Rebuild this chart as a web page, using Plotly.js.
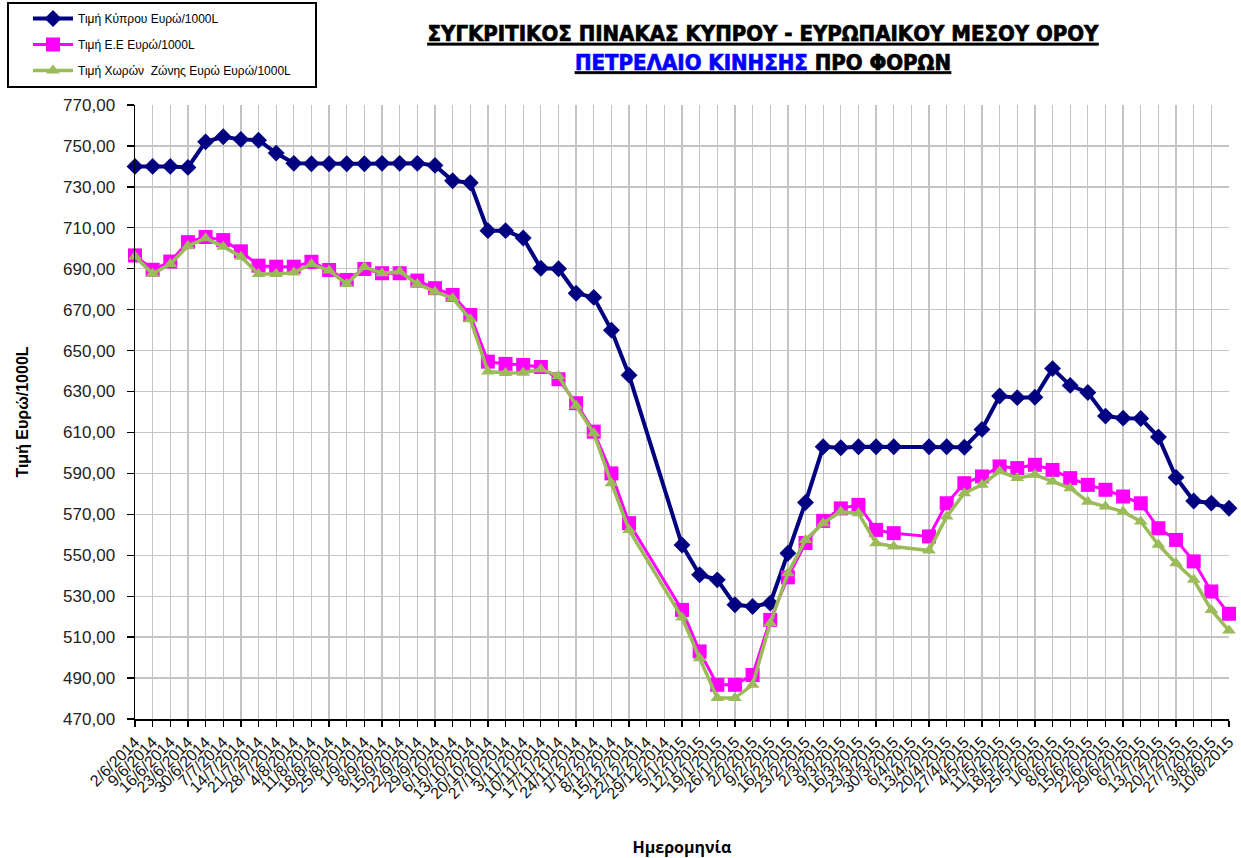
<!DOCTYPE html>
<html>
<head>
<meta charset="utf-8">
<script src="https://cdn.plot.ly/plotly-3.0.1.min.js"></script>
<style>html,body{margin:0;padding:0;background:#fff;}#chart{width:1241px;height:858px;}
.gtitle{font-stretch:condensed;stroke:#000;stroke-width:0.7px;}
.gtitle tspan[style*="0000FF"]{stroke:#0000FF;}</style>
</head>
<body>
<div id="chart"></div>
<script>
var dates = ["2/6/2014","9/6/2014","16/6/2014","23/6/2014","30/6/2014","7/7/2014","14/7/2014","21/7/2014","28/7/2014","4/8/2014","11/8/2014","18/8/2014","25/8/2014","1/9/2014","8/9/2014","15/9/2014","22/9/2014","29/9/2014","6/10/2014","13/10/2014","20/10/2014","27/10/2014","3/11/2014","10/11/2014","17/11/2014","24/11/2014","1/12/2014","8/12/2014","15/12/2014","22/12/2014","29/12/2014","5/1/2015","12/1/2015","19/1/2015","26/1/2015","2/2/2015","9/2/2015","16/2/2015","23/2/2015","2/3/2015","9/3/2015","16/3/2015","23/3/2015","30/3/2015","6/4/2015","13/4/2015","20/4/2015","27/4/2015","4/5/2015","11/5/2015","18/5/2015","25/5/2015","1/6/2015","8/6/2015","15/6/2015","22/6/2015","29/6/2015","6/7/2015","13/7/2015","20/7/2015","27/7/2015","3/8/2015","10/8/2015"];

var cyprus = [740,740,740,739.5,752,754.5,753.2,752.8,746.5,741.5,741.3,741.3,741.3,741.3,741.5,741.5,741.5,740.5,733,732,708.6,708.6,705,690.2,690,678,676,660,638,null,null,555,540.5,538,525.8,525,526.6,551,575.8,603,602.5,603,603,603,null,603,603,602.8,611.5,627.8,627,627.2,641.2,633,629.5,618,617,616.8,607.8,588,576.5,575.5,573];

var eu = [696.5,689.5,693.5,703,705.5,704,698.5,691.5,691,691,693.4,689.4,684.5,689.9,687.8,687.8,684.2,680.5,677.2,667.4,644.6,643.5,643,642,636,624.3,610.4,590,565.7,null,null,523.3,503,486.7,486.7,491.5,518.4,539.2,556,566.8,572.9,574.6,562.4,560.8,null,559.2,575.4,585.2,588.5,593.4,592.6,594.2,591.7,587.7,584.4,582,578.7,575.4,563.2,557.5,547,532.3,521.4];

var eurozone = [696,687.5,692.3,701.1,704.9,700.8,695.9,687.4,687.4,688.1,692.3,689.1,682.6,690.8,687.8,688.6,682.6,678.8,675.6,665.3,639.8,639,639.2,640.9,637.6,623,609.6,585.2,562.4,null,null,519.6,499.7,480.2,480.2,486.7,516.8,541.2,557.5,565.7,571.3,570.5,555.9,554.3,null,552.3,568.9,580.3,584.4,591,587.7,589.3,586,582.8,576.2,573.8,571.3,566.5,555.1,546.1,538,523.3,513.2];

var seriesNames = ["Τιμή Κύπρου Ευρώ/1000L","Τιμή Ε.Ε Ευρώ/1000L","Τιμή Χωρών  Ζώνης Ευρώ Ευρώ/1000L"];

var traces = [
  {x: dates, y: cyprus, name: seriesNames[0], type: 'scatter', mode: 'lines+markers', connectgaps: true, cliponaxis: false, legendgroup: 'a',
   line: {color: '#000080', width: 4}, marker: {symbol: 'diamond', size: 13, color: '#000080'}},
  {x: dates, y: eu, name: seriesNames[1], type: 'scatter', mode: 'lines+markers', connectgaps: true, cliponaxis: false, legendgroup: 'b',
   line: {color: '#FF00FF', width: 3}, marker: {symbol: 'square', size: 14, color: '#FF00FF'}},
  {x: dates, y: eurozone, name: seriesNames[2], type: 'scatter', mode: 'lines+markers', connectgaps: true, cliponaxis: false, legendgroup: 'c',
   line: {color: '#9BBB59', width: 3.5}, marker: {symbol: 'triangle-up', size: 12, color: '#9BBB59'}}
];

var L = 135, PW = 1094, T = 105, PH = 614;

var layout = {
  width: 1241, height: 858,
  margin: {l: L, r: 12, t: T, b: 139, autoexpand: false},
  paper_bgcolor: '#ffffff', plot_bgcolor: '#ffffff',
  separators: ',.',
  font: {family: 'Liberation Sans, Arial, sans-serif', color: '#000'},
  title: {
    text: '<u>ΣΥΓΚΡΙΤΙΚΟΣ ΠΙΝΑΚΑΣ ΚΥΠΡΟΥ - ΕΥΡΩΠΑΙΚΟΥ ΜΕΣΟΥ ΟΡΟΥ</u><br><u><span style="color:#0000FF">ΠΕΤΡΕΛΑΙΟ ΚΙΝΗΣΗΣ</span> ΠΡΟ ΦΟΡΩΝ</u>',
    font: {family: 'DejaVu Sans, sans-serif', size: 22, color: '#000', weight: 'bold'},
    x: 763/1241, xanchor: 'center', xref: 'container',
    y: 1 - 41/858, yanchor: 'top', yref: 'container'
  },
  showlegend: true,
  legend: {
    xref: 'paper', yref: 'paper', x: (28-L)/PW, y: (T+PH-4)/PH, xanchor: 'left', yanchor: 'top',
    bgcolor: 'rgba(255,255,255,0)', borderwidth: 0,
    font: {family: 'Liberation Sans, Arial, sans-serif', size: 12, color: '#000'},
    itemwidth: 40, tracegroupgap: 7, traceorder: 'grouped'
  },
  xaxis: {
    type: 'category', range: [0, dates.length - 1], tickmode: 'linear', tick0: 0, dtick: 1,
    showgrid: true, gridcolor: '#c4c4c4', gridwidth: 1.3,
    showline: true, linecolor: '#000', linewidth: 1.5,
    ticks: 'outside', ticklen: 6, tickcolor: '#000', tickwidth: 1.3,
    tickangle: -45, tickfont: {family: 'Liberation Sans, Arial, sans-serif', size: 16, color: '#111'},
    title: {text: 'Ημερομηνία', font: {family: 'Open Sans, Noto Sans, sans-serif', size: 16, color: '#000', weight: 'bold'}, standoff: 45},
    automargin: false, zeroline: false
  },
  yaxis: {
    range: [470, 770], dtick: 20, tick0: 470, tickformat: '.2f',
    showgrid: true, gridcolor: '#c4c4c4', gridwidth: 1.3,
    showline: true, linecolor: '#000', linewidth: 1.5,
    ticks: 'outside', ticklen: 7, tickcolor: '#000', tickwidth: 1.3,
    ticklabelstandoff: 8,
    tickfont: {family: 'Liberation Sans, Arial, sans-serif', size: 17, color: '#222'},
    title: {text: 'Τιμή Ευρώ/1000L', font: {family: 'Liberation Sans, Arial, sans-serif', size: 16, color: '#000', weight: 'bold'}, standoff: 30},
    automargin: false, zeroline: false
  },
  shapes: [
    {type: 'rect', xref: 'paper', yref: 'paper', x0: (8-L)/PW, x1: (316-L)/PW, y0: (T+PH-87)/PH, y1: (T+PH-3)/PH,
     line: {color: '#000', width: 2}, fillcolor: 'rgba(0,0,0,0)', layer: 'below'}
  ]
};

Plotly.newPlot('chart', traces, layout, {displayModeBar: false, staticPlot: true});
</script>
</body>
</html>
